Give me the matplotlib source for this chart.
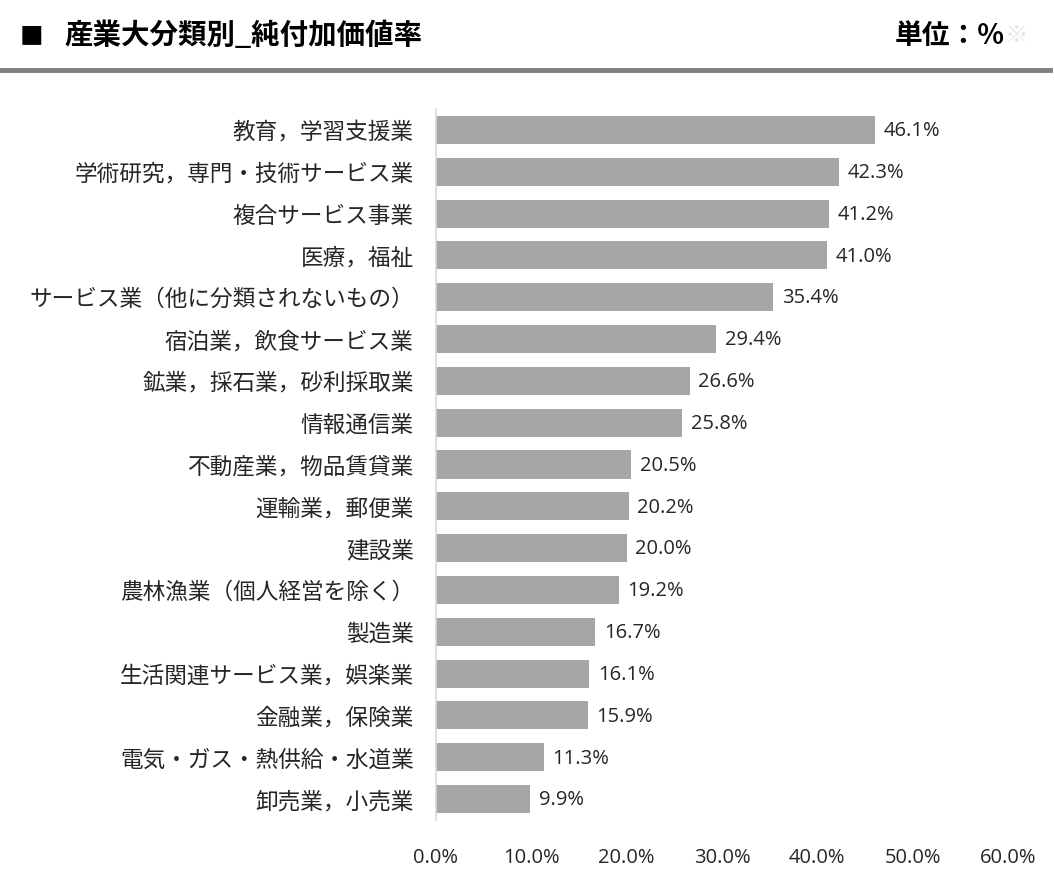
import matplotlib
matplotlib.use("Agg")
import matplotlib.pyplot as plt
from matplotlib.lines import Line2D

plt.rcParams['font.family'] = ['Noto Sans CJK JP', 'DejaVu Sans']

categories = [
    "教育，学習支援業",
    "学術研究，専門・技術サービス業",
    "複合サービス事業",
    "医療，福祉",
    "サービス業（他に分類されないもの）",
    "宿泊業，飲食サービス業",
    "鉱業，採石業，砂利採取業",
    "情報通信業",
    "不動産業，物品賃貸業",
    "運輸業，郵便業",
    "建設業",
    "農林漁業（個人経営を除く）",
    "製造業",
    "生活関連サービス業，娯楽業",
    "金融業，保険業",
    "電気・ガス・熱供給・水道業",
    "卸売業，小売業",
]
values = [46.1, 42.3, 41.2, 41.0, 35.4, 29.4, 26.6, 25.8, 20.5, 20.2, 20.0,
          19.2, 16.7, 16.1, 15.9, 11.3, 9.9]
xticks = [0, 10, 20, 30, 40, 50, 60]
xtick_labels = ["0.0%", "10.0%", "20.0%", "30.0%", "40.0%", "50.0%", "60.0%"]
title_mark = "■"
title = "産業大分類別_純付加価値率"
unit = "単位：%"

W, H = 1054, 882
fig = plt.figure(figsize=(W / 100, H / 100), dpi=100)
ax = fig.add_axes([436 / W, 1 - 820 / H, (1008 - 436) / W, (820 - 109) / H])

latin = ['Open Sans', 'DejaVu Sans']
y = list(range(len(categories)))
ax.barh(y, values, height=0.67, color="#A6A6A6")
ax.set_ylim(len(categories) - 0.5, -0.5)
ax.set_xlim(0, 60)
ax.set_yticks(y)
ax.set_yticklabels(categories, fontsize=16.3, color="#262626")
ax.set_xticks(xticks)
ax.set_xticklabels(xtick_labels, fontsize=14.5, family=latin, color="#262626")
ax.tick_params(axis='y', length=0, pad=16)
ax.tick_params(axis='x', length=0, pad=20)
for s in ["top", "right", "bottom"]:
    ax.spines[s].set_visible(False)
ax.spines["left"].set_color("#D9D9D9")
ax.spines["left"].set_linewidth(1.2)

for yi, v in zip(y, values):
    ax.text(v + 0.9, yi + 0.03, f"{v:.1f}%", va="center", ha="left", fontsize=14.5,
            family=latin, color="#262626")

fig.text(20 / W, 1 - 36 / H, title_mark, fontsize=17, fontweight="bold",
         va="center", ha="left", color="black")
fig.text(64 / W, 1 - 36 / H, title, fontsize=20.5, fontweight="bold",
         va="center", ha="left", color="black")
fig.text(895 / W, 1 - 36 / H, unit, fontsize=20, fontweight="bold",
         va="center", ha="left", color="black")
fig.text(1005 / W, 1 - 36 / H, "※", fontsize=17, va="center", ha="left",
         color="#E6E6E6")

fig.add_artist(Line2D([0, 1050 / W], [1 - 70 / H, 1 - 70 / H],
                      transform=fig.transFigure, color="#808080", linewidth=3.5))

fig.savefig("out.png", dpi=100, facecolor="white")
